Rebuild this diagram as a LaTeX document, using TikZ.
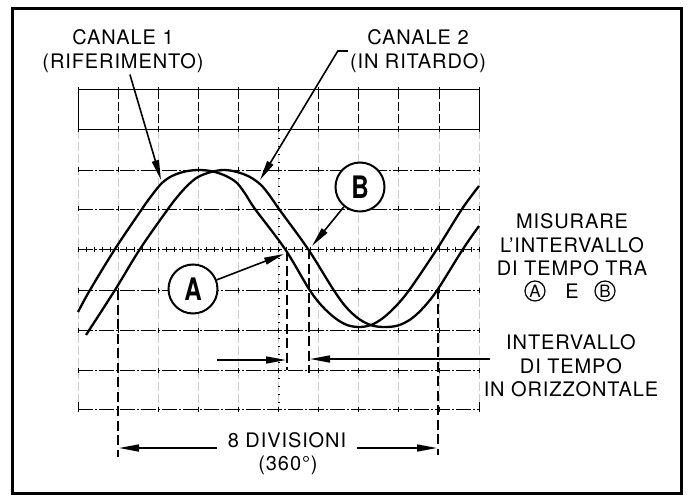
\documentclass[tikz,border=0pt]{standalone}
\usepackage{fontspec}
\setmainfont{TeX Gyre Heros}[LetterSpace=4.5]
\usepackage{graphicx}
\usetikzlibrary{arrows.meta}

\begin{document}
\begin{tikzpicture}[x=1pt,y=-1pt,
  lbl/.style={align=center, font=\fontsize{20}{23.5}\selectfont, inner sep=2pt},
  leader/.style={line width=1.6pt, -{Triangle[length=20pt,width=7pt]}},
  trace/.style={line width=2.3pt, line join=round},
  gridh/.style={line width=0.9pt, dash pattern=on 15pt off 2pt on 2pt off 2pt},
  gridv/.style={line width=0.8pt, dash pattern=on 9pt off 3pt},
  marker/.style={line width=1.7pt, dash pattern=on 10pt off 4.5pt},
  letterring/.style={draw, circle, fill=white, line width=2pt, minimum size=49pt, inner sep=0pt},
  smallring/.style={draw, circle, line width=1.2pt, minimum size=20pt, inner sep=0pt, font=\fontsize{17}{17}\selectfont}]

\useasboundingbox (0,0) rectangle (688,497);
\draw[line width=3pt] (12,9) rectangle (681,493);

% graticule
\draw[line width=1pt] (78,90) rectangle (479,130);
\foreach \i in {1,...,9} \draw[gridv] (78+40.1*\i,90) -- ++(0,40);
\foreach \i in {0,...,10} \draw[gridv, black!20] (78+40.1*\i,130) -- ++(0,279);
\foreach \y in {170,209,249,290,330,370,409} \draw[gridh] (78,\y) -- (479,\y);
\foreach \y in {90,130,170,209,249,290,330,370,409} {
  \foreach \i in {0,...,10} \draw[line width=0.8pt] (78+40.1*\i,\y-2.5) -- ++(0,5);
}
\foreach \i in {0,...,50} \draw[line width=0.7pt] (78+8.02*\i,246.5) -- ++(0,5);
\draw[line width=0.9pt] (78,402) -- (78,409) (479,402) -- (479,409);
\draw[line width=1.3pt, dash pattern=on 1.3pt off 6.7pt] (279,130) -- (279,409);

% the two traces
\draw[trace] plot[smooth, tension=0.55] coordinates {(78,312) (90,290) (115,249) (142,209) (152,195) (162,183) (172,176) (185,171.5) (199,170) (213,171.5) (226,176) (237,183) (246,195) (255,209) (285,249) (309,289) (322,306) (335,318) (347,325) (359,327) (371,325) (383,318) (396,306) (410,289) (437,249) (462,209) (479,186)};
\draw[trace] plot[smooth, tension=0.55] coordinates {(86,335) (115,290) (140,249) (168,209) (178,196) (188,185) (198,177) (211,172) (224,170) (237,172) (250,177) (261,185) (270,196) (279,209) (308,249) (333,289) (346,307) (359,319) (372,325.5) (385,327) (398,325.5) (411,319) (424,307) (438,289) (463,249) (479,226)};

% points and markers
\coordinate (a) at (287,251);
\coordinate (alow) at (287,370);
\coordinate (b) at (309,249);
\coordinate (blow) at (309,373);
\coordinate (p1) at (118,290);
\coordinate (p1low) at (118,457);
\coordinate (p2) at (438,289);
\coordinate (p2low) at (438,455);
\draw[marker] (a) -- (alow);
\draw[marker] (b) -- (blow);
\draw[marker] (p1) -- (p1low);
\draw[marker] (p2) -- (p2low);

% labels
\node[lbl] (can1) at (123,51) {CANALE 1\\(RIFERIMENTO)};
\node[lbl] (can2) at (418,51) {CANALE 2\\(IN RITARDO)};
\coordinate (c1tip) at (161,180);
\coordinate (c2tip) at (260,180);
\draw[leader] (can1) -- (c1tip);
\draw[leader] (can2.west) -- ++(-10,0) -- (c2tip);

\node[letterring] (acirc) at (193,289) {\fontsize{31}{31}\selectfont\bfseries\scalebox{0.78}[1]{A}};
\node[letterring] (bcirc) at (360,187) {\fontsize{31}{31}\selectfont\bfseries\scalebox{0.78}[1]{B}};
\coordinate (atip) at (284,254);
\coordinate (btip) at (312,246);
\draw[leader] (acirc) -- (atip);
\draw[leader] (bcirc) -- (btip);

\node[lbl] (misura) at (572,245) {MISURARE\\L'INTERVALLO\\DI TEMPO TRA};
\node[smallring] (ra) at (535,291) {A};
\node[lbl] (e) at (572,291) {E};
\node[smallring] (rb) at (605,291) {B};

\node[lbl] (inter) at (571,366) {INTERVALLO\\DI TEMPO\\IN ORIZZONTALE};
\coordinate (l1) at (217,360);
\coordinate (l2) at (286,360);
\coordinate (r1) at (490,359);
\coordinate (r2) at (310,359);
\draw[leader] (l1) -- (l2);
\draw[leader] (r1) -- (r2);

\node[lbl, anchor=base] (div) at (287,447) {8 DIVISIONI};
\node[lbl] (deg) at (288,465) {(360°)};
\coordinate (d1) at (217,448);
\coordinate (d1tip) at (119,448);
\coordinate (d2) at (357,448);
\coordinate (d2tip) at (437,448);
\draw[leader] (d1) -- (d1tip);
\draw[leader] (d2) -- (d2tip);
\end{tikzpicture}
\end{document}
